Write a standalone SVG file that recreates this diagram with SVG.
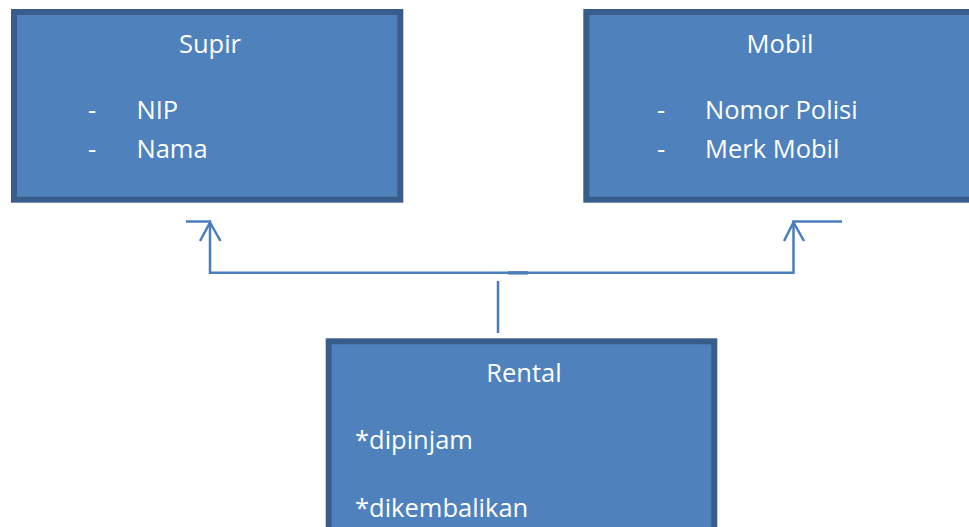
<svg xmlns="http://www.w3.org/2000/svg" width="969" height="527" viewBox="0 0 969 527">
<style>
.box{fill:#4F81BD;stroke:#385D8A;stroke-width:6}
.t{font-family:"Open Sans","Noto Sans","Liberation Sans",sans-serif;font-size:25.5px;fill:#FFFFFF}
.c{fill:none;stroke:#4A7EBB;stroke-width:2.5;stroke-linejoin:miter}
</style>
<rect width="969" height="527" fill="#FFFFFF"/>
<g id="supir">
<rect class="box" x="14" y="12" width="386.3" height="187.7"/>
<text class="t" x="210" y="53" text-anchor="middle">Supir</text>
<text class="t" x="88" y="119">-</text>
<text class="t" x="136.5" y="119">NIP</text>
<text class="t" x="88" y="158">-</text>
<text class="t" x="136.5" y="158">Nama</text>
</g>
<g id="mobil">
<rect class="box" x="586.3" y="12" width="400" height="187.7"/>
<text class="t" x="780" y="53" text-anchor="middle">Mobil</text>
<text class="t" x="657" y="119">-</text>
<text class="t" x="705" y="119">Nomor Polisi</text>
<text class="t" x="657" y="158">-</text>
<text class="t" x="705" y="158">Merk Mobil</text>
</g>
<g id="rental">
<rect class="box" x="328.7" y="341.3" width="385.6" height="220"/>
<text class="t" x="524" y="381.5" text-anchor="middle">Rental</text>
<text class="t" x="355" y="449">*dipinjam</text>
<text class="t" x="355" y="516.5">*dikembalikan</text>
</g>
<g id="connectors">
<path class="c" d="M186,221.5 H210 V272.7 H793.5 V221.5 H842"/>
<path class="c" d="M200,241 L210,222.5 L220.5,241"/>
<path class="c" d="M784,241 L793.5,222.5 L804,241"/>
<path d="M508,272.9 H528" stroke="#4A7EBB" stroke-width="3.4" fill="none"/>
<path class="c" d="M498,281 V333"/>
</g>
</svg>
